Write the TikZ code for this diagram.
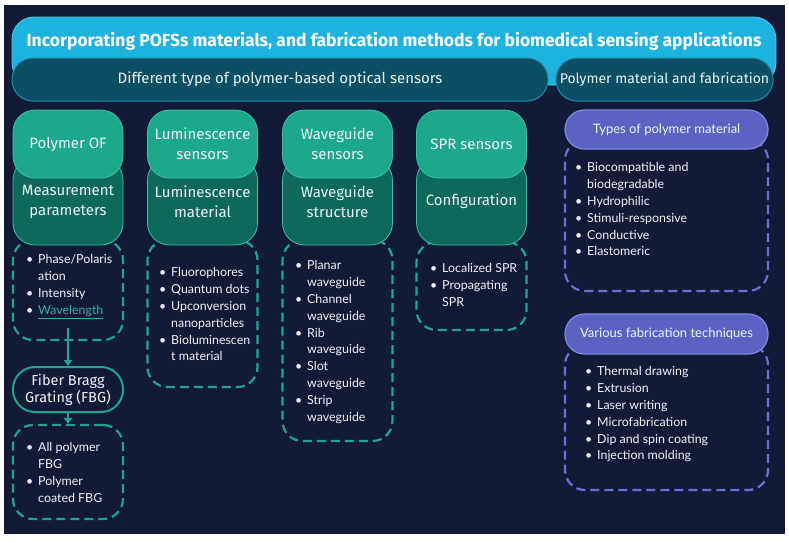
\documentclass[tikz,border=0pt]{standalone}
\usepackage{fontspec}
\setmainfont{Lato}
\newfontfamily\hdfont{Fira Sans}
\definecolor{bgc}{HTML}{131A38}
\definecolor{cyanc}{HTML}{1EB2DE}
\definecolor{cyanb}{HTML}{55C8EA}
\definecolor{rowc}{HTML}{0B4F64}
\definecolor{rowb}{HTML}{1C8CA6}
\definecolor{greenc}{HTML}{1CA88C}
\definecolor{greenb}{HTML}{3CC2A6}
\definecolor{dgreenc}{HTML}{0D6A5A}
\definecolor{dashc}{HTML}{1FA58D}
\definecolor{purc}{HTML}{5A62C4}
\definecolor{purb}{HTML}{8189E0}
\definecolor{purd}{HTML}{6871D8}
\definecolor{txtc}{HTML}{EEF3F5}
\definecolor{wavec}{HTML}{2BB39C}
\newcommand{\lstfont}{\fontsize{12.4}{16.8}\selectfont}
\newcommand{\hdf}{\hdfont\fontsize{15}{20}\selectfont}
\newenvironment{blist}{\begin{tabular}{@{}p{12pt}@{}l@{}}}{\end{tabular}}
\tikzset{
  hdbox/.style={rectangle, rounded corners=22pt, minimum width=110pt, text=txtc, font=\hdf, align=center, inner sep=0pt},
  topbox/.style={hdbox, fill=greenc, draw=greenb, line width=0.8pt, minimum height=68pt},
  midbox/.style={hdbox, fill=dgreenc, draw=greenb, line width=0.8pt, minimum height=87pt},
  dbox/.style={rectangle, rounded corners=20pt, draw=dashc, line width=2.2pt, dash pattern=on 9pt off 5pt, minimum width=110pt, inner sep=0pt},
  pdbox/.style={rectangle, rounded corners=20pt, draw=purd, line width=2.2pt, dash pattern=on 9pt off 5pt, minimum width=203pt, inner sep=0pt},
  rowpill/.style={rectangle, rounded corners=21pt, fill=rowc, draw=rowb, line width=1pt, minimum height=43pt, text=txtc, inner sep=0pt},
  purpill/.style={rectangle, rounded corners=19.5pt, fill=purc, draw=purb, line width=1.2pt, minimum width=203pt, text=txtc, inner sep=0pt, font=\fontsize{13}{15}\selectfont},
  lst/.style={anchor=north west, inner sep=0pt, text=txtc, font=\lstfont},
  arr/.style={draw=dashc, line width=2pt, -{Triangle[length=6pt,width=8pt]}},
}
\usetikzlibrary{arrows.meta}
\begin{document}
\begin{tikzpicture}[x=1pt,y=-1pt]
\useasboundingbox (0,0) rectangle (789,542);
\fill[white] (0,0) rectangle (789,542);
\node[rectangle, fill=bgc, minimum width=781pt, minimum height=529pt, inner sep=0pt] (bg) at (394.5,269.5) {};
% title
\node[rectangle, rounded corners=22pt, fill=cyanc, draw=cyanb, line width=0.8pt, minimum width=764pt, minimum height=68pt, inner sep=0pt] (titlebox) at (394,51) {};
\node[text=white, font=\hdfont\bfseries\fontsize{17.5}{20}\selectfont] (title) at (394,41) {Incorporating POFSs materials, and fabrication methods for biomedical sensing applications};
% row 2
\node[rowpill, minimum width=536pt, font=\hdfont\fontsize{15}{18}\selectfont] (row1) at (280,79.5) {Different type of polymer-based optical sensors};
\node[rowpill, minimum width=217pt, font=\hdfont\fontsize{14}{18}\selectfont] (row2) at (664.5,79.5) {Polymer material and fabrication};
% dashed boxes (behind)
\node[dbox, minimum height=100pt] (d1) at (68,290) {};
\node[dbox, minimum height=147pt] (d2) at (202.5,313.5) {};
\node[dbox, minimum height=201pt] (d3) at (337.5,340.5) {};
\node[dbox, minimum height=88pt] (d4) at (471.5,286) {};
% middle boxes
\node[midbox] (m1) at (68,201.5) {Measurement\\parameters};
\node[midbox] (m2) at (202.5,201.5) {Luminescence\\material};
\node[midbox] (m3) at (337.5,201.5) {Waveguide\\structure};
\node[midbox] (m4) at (471.5,201.5) {Configuration};
% top boxes
\node[topbox] (t1) at (68,144) {Polymer OF};
\node[topbox] (t2) at (202.5,144) {Luminescence\\sensors};
\node[topbox] (t3) at (337.5,144) {Waveguide\\sensors};
\node[topbox] (t4) at (471.5,144) {SPR sensors};
% lists
\node[lst] (l1) at (26,252) {\begin{blist}
\textbullet & Phase/Polaris\\ & ation\\ \textbullet & Intensity\\ \textbullet & \textcolor{wavec}{\underline{Wavelength}}
\end{blist}};
\node[lst] (l2) at (159,265) {\begin{blist}
\textbullet & Fluorophores\\ \textbullet & Quantum dots\\ \textbullet & Upconversion\\ & nanoparticles\\ \textbullet & Bioluminescen\\ & t material
\end{blist}};
\node[lst] (l3) at (295,258) {\begin{blist}
\textbullet & Planar\\ & waveguide\\ \textbullet & Channel\\ & waveguide\\ \textbullet & Rib\\ & waveguide\\ \textbullet & Slot\\ & waveguide\\ \textbullet & Strip\\ & waveguide
\end{blist}};
\node[lst] (l4) at (430,261) {\begin{blist}
\textbullet & Localized SPR\\ \textbullet & Propagating\\ & SPR
\end{blist}};
% FBG
\coordinate (a1) at (68,328);
\node[hdbox, draw=dashc, line width=2pt, minimum height=45pt, font=\hdfont\fontsize{14.5}{17}\selectfont] (fbg) at (68,389.5) {Fiber Bragg\\Grating (FBG)};
\node[dbox, minimum height=94pt] (d5) at (68,472) {};
\node[lst] (l5) at (26,440) {\begin{blist}
\textbullet & All polymer\\ & FBG\\ \textbullet & Polymer\\ & coated FBG
\end{blist}};
\draw[arr] (a1) -- (fbg.north);
\draw[arr] (fbg.south) -- (d5.north);
% right side
\node[pdbox, minimum height=151pt] (pd1) at (666.5,215.5) {};
\node[purpill, minimum height=39pt] (p1) at (666.5,129.5) {Types of polymer material};
\node[lst] (l6) at (575,160) {\begin{blist}
\textbullet & Biocompatible and\\ & biodegradable\\ \textbullet & Hydrophilic\\ \textbullet & Stimuli-responsive\\ \textbullet & Conductive\\ \textbullet & Elastomeric
\end{blist}};
\node[pdbox, minimum height=145pt] (pd2) at (666.5,417.5) {};
\node[purpill, minimum height=40pt] (p2) at (666.5,334) {Various fabrication techniques};
\node[lst] (l7) at (585,364) {\begin{blist}
\textbullet & Thermal drawing\\ \textbullet & Extrusion\\ \textbullet & Laser writing\\ \textbullet & Microfabrication\\ \textbullet & Dip and spin coating\\ \textbullet & Injection molding
\end{blist}};
\end{tikzpicture}
\end{document}
